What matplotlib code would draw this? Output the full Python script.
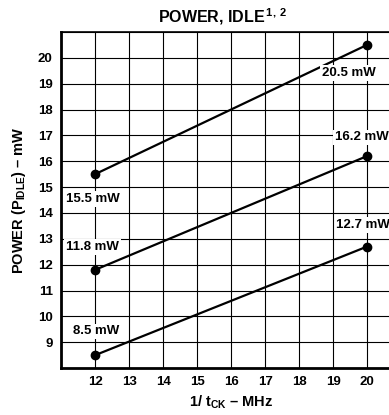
import numpy as np
import matplotlib
matplotlib.use("Agg")
import matplotlib.pyplot as plt

plt.rcParams['font.family'] = ['Liberation Sans', 'DejaVu Sans']
plt.rcParams['font.weight'] = 'bold'
plt.rcParams['mathtext.fontset'] = 'custom'
plt.rcParams['mathtext.rm'] = 'Liberation Sans:bold'
plt.rcParams['mathtext.default'] = 'rm'

# Idle power vs clock frequency, three supply cases
freq = [12, 20]
p_high = [15.5, 20.5]
p_mid = [11.8, 16.2]
p_low = [8.5, 12.7]
series = [p_high, p_mid, p_low]

x_ticks = list(range(12, 21))
y_ticks = list(range(9, 21))

fig = plt.figure(figsize=(3.89, 4.15), dpi=100)
ax = fig.add_axes([0.157, 0.113, 0.874, 0.81])
ax.set_xlim(11, 21)
ax.set_ylim(8, 21)

# full grid at every integer
for gx in range(11, 22):
    ax.axvline(gx, color='black', lw=0.8, zorder=1)
for gy in range(8, 22):
    ax.axhline(gy, color='black', lw=0.8, zorder=1)

for p in series:
    ax.plot(freq, p, color='black', lw=1.6, marker='o', ms=6, zorder=4)

# value labels: (x, y) of label left/centre, value taken from the series
label_pos = [
    ((11.15, 14.54), (18.68, 19.42)),
    ((11.15, 12.69), (19.06, 16.92)),
    ((11.35, 9.42), (19.1, 13.54)),
]
for p, (lpos, rpos) in zip(series, label_pos):
    for v, pos in zip(p, (lpos, rpos)):
        ax.text(pos[0], pos[1], f"{v:.1f} mW", fontsize=9.5, fontweight='bold',
                ha='left', va='center', zorder=5,
                bbox=dict(facecolor='white', edgecolor='none', pad=1.2))

ax.set_xticks(x_ticks)
ax.set_yticks(y_ticks)
ax.tick_params(length=0, labelsize=9.5, pad=6)
for lab in ax.get_xticklabels() + ax.get_yticklabels():
    lab.set_fontweight('bold')

ax.spines['left'].set_linewidth(2.0)
ax.spines['bottom'].set_linewidth(2.0)
ax.spines['top'].set_linewidth(1.2)
ax.spines['right'].set_linewidth(1.2)

ax.set_title(r"POWER, IDLE$^{\,1,\,2}$", fontsize=11.5, fontweight='bold',
             pad=7, x=0.476)
ax.set_xlabel(r"1/ t$_{CK}$ – MHz", fontsize=10.5, fontweight='bold', labelpad=4)
ax.set_ylabel(r"POWER (P$_{IDLE}$) – mW", fontsize=10.5, fontweight='bold', labelpad=7)

fig.savefig("out.png", dpi=100)
